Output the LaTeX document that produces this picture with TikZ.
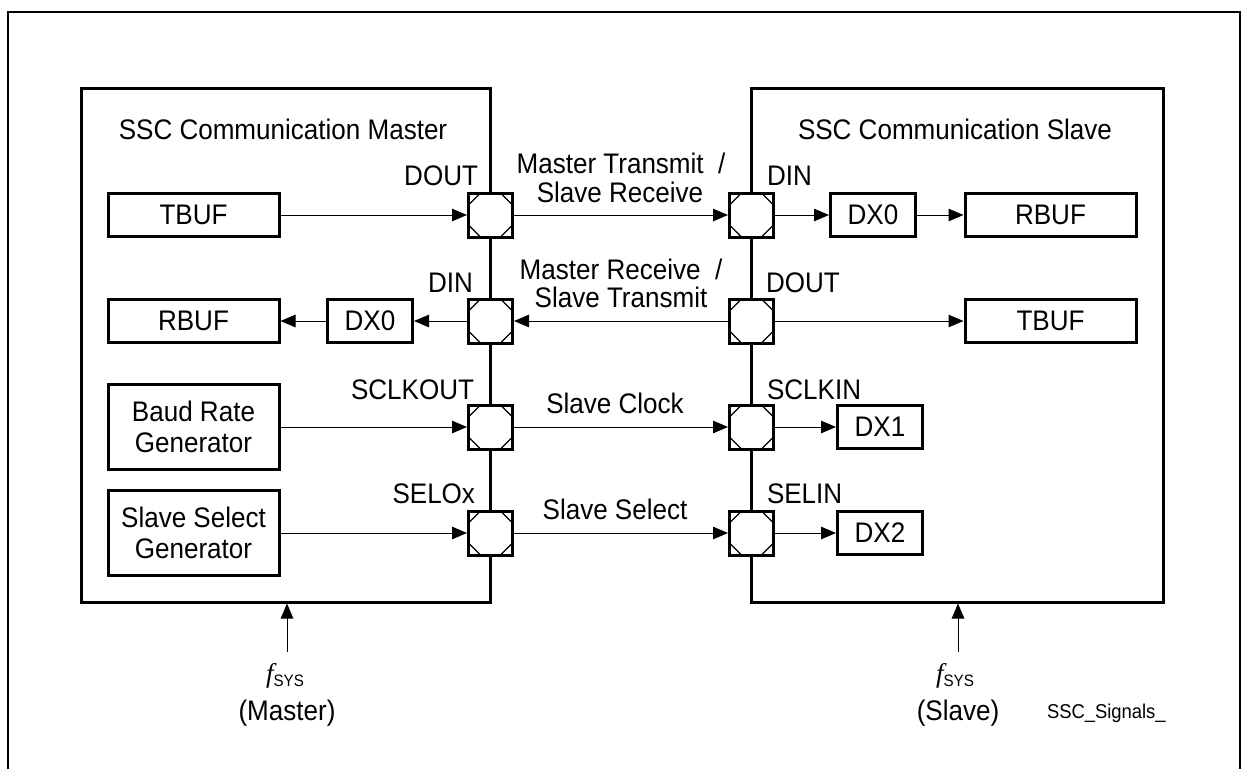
\documentclass[tikz,border=0pt]{standalone}
\usepackage{fontspec}
\setmainfont[FakeStretch=0.92]{Liberation Sans}
\newfontfamily\fserif{Liberation Serif}
\usetikzlibrary{arrows.meta}
\begin{document}
\begin{tikzpicture}[x=1pt,y=-1pt,
  every node/.style={font=\fontsize{28.3}{31}\selectfont, inner sep=0pt, outer sep=0pt},
  frame/.style={line width=2.5pt},
  blk/.style={draw, line width=3pt, fill=white, minimum width=171pt, minimum height=43pt},
  blk2/.style={draw, line width=3pt, fill=white, minimum width=171pt, minimum height=85pt, align=center},
  dxb/.style={draw, line width=3pt, fill=white, minimum width=85pt, minimum height=43pt},
  port/.style={draw, line width=3pt, fill=white, minimum width=44pt, minimum height=44pt,
    path picture={
      \draw[line width=1.1pt]
        ([yshift=-12pt]path picture bounding box.north west) -- ([xshift=12pt]path picture bounding box.north west)
        ([yshift=-12pt]path picture bounding box.north east) -- ([xshift=-12pt]path picture bounding box.north east)
        ([yshift=12pt]path picture bounding box.south west) -- ([xshift=12pt]path picture bounding box.south west)
        ([yshift=12pt]path picture bounding box.south east) -- ([xshift=-12pt]path picture bounding box.south east);
    }},
  sig/.style={line width=1pt, -{Triangle[length=15pt,width=12.5pt]}, shorten >=1.5pt, shorten <=1.5pt},
  lblR/.style={anchor=base east},
  lblL/.style={anchor=base west},
  lblC/.style={anchor=base}
]
\useasboundingbox (0,0) rectangle (1242,769);
% outer frame
\draw[frame] (8,769) -- (8,12) -- (1240,12) -- (1240,769);

% main boxes
\node[draw, line width=3pt, minimum width=409pt, minimum height=514pt] (mbox) at (285.75,345) {};
\node[draw, line width=3pt, minimum width=412pt, minimum height=514pt] (sbox) at (957.25,345) {};

\node[lblC] (mtitle) at (283,139) {SSC Communication Master};
\node[lblC] (stitle) at (955,139) {SSC Communication Slave};

% master blocks
\node[blk] (mTBUF) at (193.5,215) {TBUF};
\node[blk] (mRBUF) at (193.5,321) {RBUF};
\node[dxb] (mDX0) at (370,321) {DX0};
\node[blk2] (mBaud) at (193.5,427) {Baud Rate\\Generator};
\node[blk2] (mSel) at (193.5,533) {Slave Select\\Generator};

% slave blocks
\node[dxb] (sDX0) at (873,215) {DX0};
\node[blk] (sRBUF) at (1050.5,215) {RBUF};
\node[blk] (sTBUF) at (1050.5,321) {TBUF};
\node[dxb] (sDX1) at (880,427) {DX1};
\node[dxb] (sDX2) at (880,533) {DX2};

% ports
\node[port] (mP1) at (490.5,215) {};
\node[port] (mP2) at (490.5,321) {};
\node[port] (mP3) at (490.5,427) {};
\node[port] (mP4) at (490.5,533) {};
\node[port] (sP1) at (751.5,215) {};
\node[port] (sP2) at (751.5,321) {};
\node[port] (sP3) at (751.5,427) {};
\node[port] (sP4) at (751.5,533) {};

% port labels
\node[lblR] (lmDOUT) at (478,185) {DOUT};
\node[lblR] (lmDIN) at (473,292) {DIN};
\node[lblR] (lmSCLK) at (474,399) {SCLKOUT};
\node[lblR] (lmSEL) at (475,503) {SELOx};
\node[lblL] (lsDIN) at (767,185) {DIN};
\node[lblL] (lsDOUT) at (766,292) {DOUT};
\node[lblL] (lsSCLK) at (767,399) {SCLKIN};
\node[lblL] (lsSEL) at (767,503) {SELIN};

% signal labels
\node[lblC] (t1a) at (621,173) {Master Transmit\ \ /};
\node[lblC] (t1b) at (620,202) {Slave Receive};
\node[lblC] (t2a) at (621,279) {Master Receive\ \ /};
\node[lblC] (t2b) at (621,307) {Slave Transmit};
\node[lblC] (t3) at (615,413) {Slave Clock};
\node[lblC] (t4) at (615,519) {Slave Select};

% connections
\draw[sig] (mTBUF.east) -- (mP1.west);
\draw[sig] (mP1.east) -- (sP1.west);
\draw[sig] (sP1.east) -- (sDX0.west);
\draw[sig] (sDX0.east) -- (sRBUF.west);
\draw[sig] (sP2.east) -- (sTBUF.west);
\draw[sig] (sP2.west) -- (mP2.east);
\draw[sig] (mP2.west) -- (mDX0.east);
\draw[sig] (mDX0.west) -- (mRBUF.east);
\draw[sig] (mBaud.east) -- (mP3.west);
\draw[sig] (mP3.east) -- (sP3.west);
\draw[sig] (sP3.east) -- (sDX1.west);
\draw[sig] (mSel.east) -- (mP4.west);
\draw[sig] (mP4.east) -- (sP4.west);
\draw[sig] (sP4.east) -- (sDX2.west);

% clocks
\coordinate (fm) at (287,652);
\coordinate (fs) at (958,652);
\draw[sig, shorten <=0pt] (fm) -- (fm |- mbox.south);
\draw[sig, shorten <=0pt] (fs) -- (fs |- sbox.south);
\node[lblC] (fmtxt) at (285,682) {{\fserif\itshape\fontsize{27}{30}\selectfont f}\raisebox{-4pt}{\fontsize{16.5}{18}\selectfont SYS}};
\node[lblC] (fstxt) at (955,682) {{\fserif\itshape\fontsize{27}{30}\selectfont f}\raisebox{-4pt}{\fontsize{16.5}{18}\selectfont SYS}};
\node[lblC] (mname) at (287,720) {(Master)};
\node[lblC] (sname) at (958,720) {(Slave)};
\node[anchor=base west, font=\fontsize{20}{22}\selectfont] (sig) at (1047,718) {SSC\_Signals\_};
\end{tikzpicture}
\end{document}
